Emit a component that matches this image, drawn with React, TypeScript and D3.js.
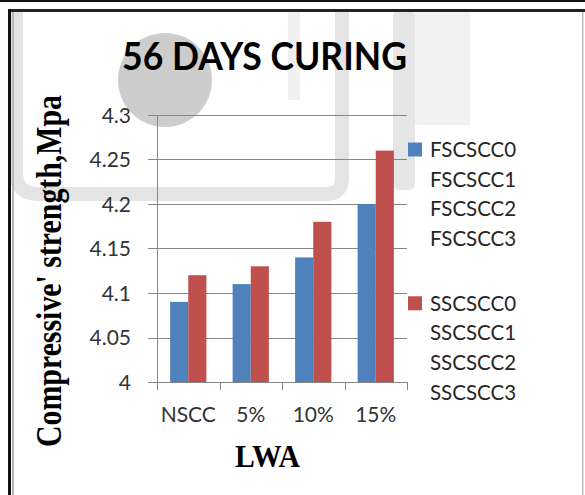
import React from "react";
import * as d3 from "d3";

const categories = ["NSCC", "5%", "10%", "15%"];
const seriesNames = ["FSCSCC0", "SSCSCC0"];
const fscscc0 = [4.09, 4.11, 4.14, 4.2];
const sscscc0 = [4.12, 4.13, 4.18, 4.26];
const yTicks = [4, 4.05, 4.1, 4.15, 4.2, 4.25, 4.3];
const legendLabels = ["FSCSCC0", "FSCSCC1", "FSCSCC2", "FSCSCC3", "SSCSCC0", "SSCSCC1", "SSCSCC2", "SSCSCC3"];
const legendColors = ["#4F81BD", null, null, null, "#C0504D", null, null, null];
const seriesColors = ["#4F81BD", "#C0504D"];

const W = 585;
const H = 495;
const plot = { left: 157, right: 407, top: 115, bottom: 382 };

export default function App() {
  const x = d3.scaleBand<string>().domain(categories).range([plot.left, plot.right]).paddingInner(0.42).paddingOuter(0.21);
  const xs = d3.scaleBand<string>().domain(seriesNames).range([0, x.bandwidth()]).padding(0);
  const y = d3.scaleLinear().domain([4, 4.3]).range([plot.bottom, plot.top]);
  const data = [fscscc0, sscscc0];
  const step = x.step();
  const boundaries = d3.range(categories.length + 1).map((i) => plot.left + i * step);

  const legendTop = 149.5;
  const legendStep = 29.7;
  const legendGap = 35;
  const font = "Lato, 'Open Sans', sans-serif";

  return (
    <svg width={W} height={H} style={{ position: "absolute", left: 0, top: 0, background: "#fff" }}>
      <rect x={0} y={0} width={W} height={H} fill="#fff" />
      {/* watermark */}
      <g>
        <rect x={288} y={10} width={12} height={90} fill="#f0f0f0" />
        <rect x={393} y={10} width={22} height={180} rx={6} fill="#e6e6e6" />
        <rect x={415} y={10} width={55} height={115} fill="#f2f2f2" />
        <path d="M16,12 L16,172 Q16,194 38,194 L326,194 Q342,194 342,178 L342,12" fill="none" stroke="#e4e4e4" strokeWidth={14} />
        <circle cx={165} cy={80} r={47} fill="#cdcdcd" />
      </g>
      {/* frame */}
      <rect x={0} y={0} width={W} height={2} fill="#111" />
      <rect x={8} y={9} width={W - 8} height={3} fill="#222" />
      <rect x={8} y={9} width={3} height={H - 9} fill="#111" />
      <rect x={12} y={12} width={2} height={H - 12} fill="#b8b8b8" />
      <rect x={582} y={12} width={1.5} height={H - 12} fill="#bdbdbd" />

      {/* gridlines */}
      {yTicks.map((t) => (
        <line key={"g" + t} x1={plot.left} x2={plot.right} y1={Math.round(y(t)) + 0.5} y2={Math.round(y(t)) + 0.5} stroke="#868686" strokeWidth={1} />
      ))}
      {/* y axis */}
      <line x1={plot.left + 0.5} x2={plot.left + 0.5} y1={plot.top} y2={plot.bottom} stroke="#868686" />
      {yTicks.map((t) => (
        <g key={"t" + t}>
          <line x1={plot.left - 9} x2={plot.left} y1={Math.round(y(t)) + 0.5} y2={Math.round(y(t)) + 0.5} stroke="#868686" />
          <text x={131} y={y(t)} dy="0.36em" textAnchor="end" fontFamily={font} fontSize={21} fill="#333">
            {String(t)}
          </text>
        </g>
      ))}
      {/* bars */}
      {categories.map((c, i) => (
        <g key={c}>
          {seriesNames.map((s, j) => (
            <rect key={s} x={(x(c) as number) + (xs(s) as number)} y={y(data[j][i])} width={xs.bandwidth()} height={y(4) - y(data[j][i])} fill={seriesColors[j]} />
          ))}
        </g>
      ))}
      {/* x axis */}
      <line x1={plot.left} x2={plot.right} y1={plot.bottom + 0.5} y2={plot.bottom + 0.5} stroke="#868686" />
      {boundaries.map((b, i) => (
        <line key={"xb" + i} x1={Math.round(b) + 0.5} x2={Math.round(b) + 0.5} y1={plot.bottom} y2={plot.bottom + 8} stroke="#868686" />
      ))}
      {categories.map((c) => (
        <text key={"xl" + c} x={(x(c) as number) + x.bandwidth() / 2} y={422} textAnchor="middle" fontFamily={font} fontSize={21} fill="#333">
          {c}
        </text>
      ))}

      {/* title */}
      <text x={122} y={70} fontFamily={font} fontWeight="bold" fontSize={38} textLength={285} lengthAdjust="spacingAndGlyphs" fill="#000">
        56 DAYS CURING
      </text>
      {/* axis titles */}
      <text transform="translate(61,447) rotate(-90)" x={0} y={0} fontFamily="'Liberation Serif', 'Times New Roman', serif" fontWeight="bold" fontSize={35} textLength={352} lengthAdjust="spacingAndGlyphs" fill="#000">
        Compressive' strength,Mpa
      </text>
      <text x={235} y={467} fontFamily="'Liberation Serif', 'Times New Roman', serif" fontWeight="bold" fontSize={32} textLength={65} lengthAdjust="spacingAndGlyphs" fill="#000">
        LWA
      </text>

      {/* legend */}
      {legendLabels.map((l, i) => {
        const cy = legendTop + i * legendStep + (i >= 4 ? legendGap : 0);
        return (
          <g key={l}>
            {legendColors[i] && <rect x={408} y={cy - 7} width={14} height={14} fill={legendColors[i] as string} />}
            <text x={430} y={cy} dy="0.36em" fontFamily={font} fontSize={20.5} fill="#262626">
              {l}
            </text>
          </g>
        );
      })}
    </svg>
  );
}
